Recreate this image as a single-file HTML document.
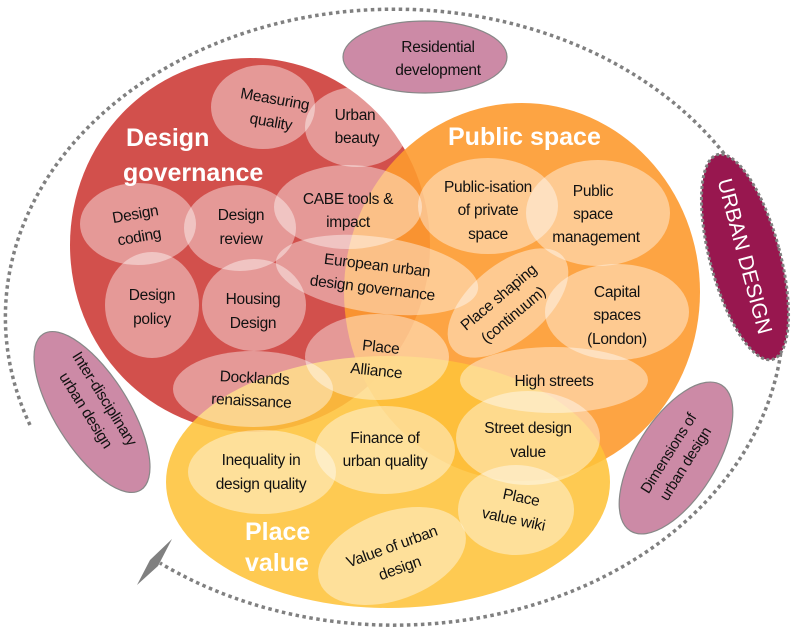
<!DOCTYPE html>
<html><head><meta charset="utf-8"><style>
html,body{margin:0;padding:0;background:#fff;}
svg text{font-family:"Liberation Sans",Arial,sans-serif;}
.t{font-size:15.5px;fill:#111;text-anchor:middle;letter-spacing:-0.3px;}
.b{font-size:25px;font-weight:bold;fill:#fff;}
.s{fill:#fff;fill-opacity:0.42;}
</style></head><body>
<svg width="799" height="634" viewBox="0 0 799 634" xmlns="http://www.w3.org/2000/svg">
<path d="M 30 425 A 389 308 0 1 1 160 563" fill="none" stroke="#808080" stroke-width="3.5" stroke-dasharray="3.5 3.5"/>
<polygon points="172,539 150,560 137,585 158,566" fill="#808080"/>

<ellipse cx="250" cy="245" rx="180" ry="187" fill="#d2504c"/>
<ellipse cx="522" cy="292" rx="178" ry="189" fill="#fd9a2f" fill-opacity="0.9"/>
<ellipse cx="388" cy="482" rx="222" ry="126" fill="#fec33a" fill-opacity="0.88"/>

<ellipse class="s" cx="263" cy="107" rx="52" ry="42"/>
<ellipse class="s" cx="357" cy="127" rx="52" ry="40"/>
<ellipse class="s" cx="348" cy="207" rx="74" ry="42"/>
<ellipse class="s" cx="138" cy="224" rx="58" ry="41"/>
<ellipse class="s" cx="240" cy="228" rx="56" ry="43"/>
<ellipse class="s" cx="377" cy="275" rx="102" ry="38" transform="rotate(8 377 275)"/>
<ellipse class="s" cx="152" cy="305" rx="47" ry="53"/>
<ellipse class="s" cx="254" cy="305" rx="52" ry="46"/>
<ellipse class="s" cx="488" cy="206" rx="70" ry="48"/>
<ellipse class="s" cx="598" cy="213" rx="72" ry="53"/>
<ellipse class="s" cx="508" cy="303" rx="72" ry="38" transform="rotate(-40 508 303)"/>
<ellipse class="s" cx="617" cy="312" rx="72" ry="48"/>
<ellipse class="s" cx="377" cy="357" rx="72" ry="43"/>
<ellipse class="s" cx="253" cy="389" rx="80" ry="38"/>
<ellipse class="s" cx="554" cy="380" rx="94" ry="33"/>
<ellipse class="s" cx="385" cy="450" rx="70" ry="44"/>
<ellipse class="s" cx="262" cy="472" rx="74" ry="42"/>
<ellipse class="s" cx="528" cy="438" rx="72" ry="47"/>
<ellipse class="s" cx="516" cy="510" rx="58" ry="45"/>
<ellipse class="s" cx="392" cy="556" rx="77" ry="44" transform="rotate(-20 392 556)"/>

<text class="b" x="126" y="146">Design</text>
<text class="b" x="123" y="181">governance</text>
<text class="b" x="448" y="145">Public space</text>
<text class="b" x="245" y="540">Place</text>
<text class="b" x="245" y="571">value</text>

<g transform="rotate(10 273 110)"><text class="t" x="273" y="104">Measuring</text><text class="t" x="273" y="127">quality</text></g>
<text class="t" x="355" y="120">Urban</text><text class="t" x="357" y="143">beauty</text>
<text class="t" x="348" y="204">CABE tools &amp;</text><text class="t" x="348" y="227">impact</text>
<g transform="rotate(-10 137 224)"><text class="t" x="137" y="219">Design</text><text class="t" x="137" y="242">coding</text></g>
<text class="t" x="241" y="220">Design</text><text class="t" x="241" y="244">review</text>
<g transform="rotate(7 374 275)"><text class="t" x="376" y="270">European urban</text><text class="t" x="374" y="293">design governance</text></g>
<text class="t" x="152" y="300">Design</text><text class="t" x="152" y="324">policy</text>
<text class="t" x="253" y="304">Housing</text><text class="t" x="253" y="328">Design</text>
<text class="t" x="488" y="192">Public-isation</text><text class="t" x="488" y="215">of private</text><text class="t" x="488" y="239">space</text>
<text class="t" x="593" y="196">Public</text><text class="t" x="593" y="219">space</text><text class="t" x="596" y="242">management</text>
<g transform="rotate(-40 505 305)"><text class="t" x="505" y="300">Place shaping</text><text class="t" x="505" y="323">(continuum)</text></g>
<text class="t" x="617" y="297">Capital</text><text class="t" x="617" y="320">spaces</text><text class="t" x="617" y="344">(London)</text>
<g transform="rotate(6 380 355)"><text class="t" x="380" y="352">Place</text><text class="t" x="378" y="376">Alliance</text></g>
<g transform="rotate(3 254 388)"><text class="t" x="254" y="383">Docklands</text><text class="t" x="252" y="406">renaissance</text></g>
<text class="t" x="554" y="386">High streets</text>
<text class="t" x="385" y="443">Finance of</text><text class="t" x="385" y="466">urban quality</text>
<text class="t" x="261" y="465">Inequality in</text><text class="t" x="261" y="489">design quality</text>
<text class="t" x="528" y="433">Street design</text><text class="t" x="528" y="457">value</text>
<g transform="rotate(12 518 508)"><text class="t" x="519" y="502">Place</text><text class="t" x="516" y="525">value wiki</text></g>
<g transform="rotate(-20 395 555)"><text class="t" x="395" y="551">Value of urban</text><text class="t" x="395" y="574">design</text></g>

<ellipse cx="425" cy="57" rx="82" ry="36" fill="#cc8aa6" stroke="#888" stroke-width="1.2"/>
<text class="t" x="438" y="52">Residential</text><text class="t" x="438" y="75">development</text>

<ellipse cx="745" cy="257" rx="35" ry="106" transform="rotate(-15 745 257)" fill="#98174f" stroke="#808080" stroke-width="3" stroke-dasharray="3 2.5"/>
<text x="0" y="0" transform="translate(738 258) rotate(75)" style="font-size:21px;fill:#fff;text-anchor:middle;">URBAN DESIGN</text>

<ellipse cx="92" cy="412" rx="37" ry="92" transform="rotate(-32 92 412)" fill="#cc8aa6" stroke="#888" stroke-width="1.2"/>
<g transform="translate(96 404) rotate(58)"><text class="t" x="0" y="-5">Inter-disciplinary</text><text class="t" x="0" y="17">urban design</text></g>

<ellipse cx="676" cy="458" rx="40" ry="86" transform="rotate(32 676 458)" fill="#cc8aa6" stroke="#888" stroke-width="1.2"/>
<g transform="translate(676 458) rotate(-58)"><text class="t" x="0" y="-4" style="font-size:15px">Dimensions of</text><text class="t" x="0" y="16" style="font-size:15px">urban design</text></g>
</svg>
</body></html>
